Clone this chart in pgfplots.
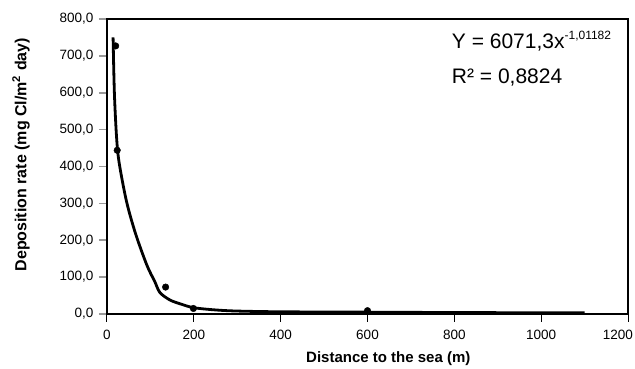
\documentclass[border=0pt]{standalone}
\usepackage{fontspec}
\setmainfont{Liberation Sans}
\usepackage{pgfplots}
\pgfplotsset{compat=1.18}
\begin{document}
\begin{tikzpicture}
\useasboundingbox (-107pt,-55pt) rectangle (528pt,314pt);
\begin{axis}[
  at={(0pt,0pt)}, anchor=south west,
  scale only axis, width=521pt, height=295pt,
  xmin=0, xmax=1200, ymin=0, ymax=800,
  xtick={0,200,...,1200}, ytick={0,100,...,800},
  xticklabels={0,200,400,600,800,1000,\makebox[10pt][r]{1200}},
  xtick pos=bottom, ytick pos=left,
  axis line style={line width=1.6pt, black},
  tick align=outside,
  major tick length=8pt,
  xtick style={black, line width=1pt},
  ytick style={black!40, line width=1.5pt},
  /pgf/number format/assume math mode=true,
  xticklabel style={font=\fontsize{13.5}{16}\selectfont, yshift=-5pt},
  yticklabel style={font=\fontsize{13.5}{16}\selectfont, xshift=-2pt, /pgf/number format/.cd, fixed, fixed zerofill, precision=1, use comma, 1000 sep={}},
  xlabel={\textbf{Distance to the sea (m)}},
  ylabel={\textbf{Deposition rate (mg Cl/m\textsuperscript{2} day)}},
  xlabel style={font=\fontsize{15}{18}\selectfont, at={(axis description cs:0.54,0)}, anchor=center, yshift=-45pt},
  ylabel style={font=\fontsize{16}{19}\selectfont, at={(axis description cs:-0.165,0.54)}, anchor=center},
  clip=false,
]
\addplot[black, line width=2.8pt, smooth, tension=0.5] coordinates {
(14,750) (17,600) (22,480) (28,410) (45,305) (66,217) (92,132) (110,88) (122,58)
(145,38) (170,27) (200,17) (250,11) (300,8) (400,6) (600,5) (800,4) (1100,3)
};
\addplot[only marks, mark=*, mark size=3.3pt, black] coordinates {
(20,727) (23.5,444) (135,73) (199,15) (600,9)
};
\node[anchor=base west, inner sep=0pt, font=\fontsize{21}{25}\selectfont] at (axis cs:794,720)
  {Y = 6071,3x\raisebox{9pt}{\fontsize{12}{12}\selectfont -1,01182}};
\node[anchor=base west, inner sep=0pt, font=\fontsize{21}{25}\selectfont] at (axis cs:794,626)
  {R² = 0,8824};
\end{axis}
\end{tikzpicture}
\end{document}
